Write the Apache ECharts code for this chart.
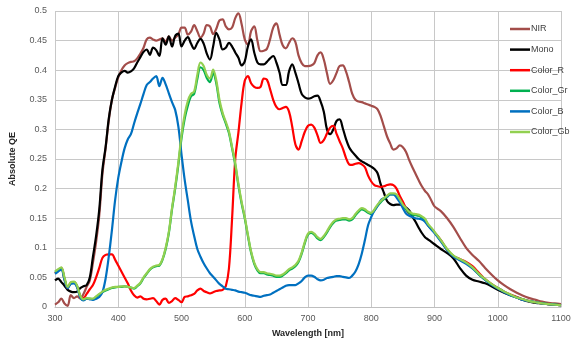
<!DOCTYPE html>
<html>
<head>
<meta charset="utf-8">
<script src="https://cdn.jsdelivr.net/npm/echarts@6/dist/echarts.min.js"></script>
<style>
html,body{margin:0;padding:0;background:#fff;}
#chart{width:579px;height:343px;}
</style>
</head>
<body>
<div id="chart"></div>
<script>
// wavelength samples [nm]: 5 nm steps to 900, then 10 nm
var wl = [
  300,305,310,315,320,325,330,335,340,345,
  350,355,360,365,370,375,380,385,390,395,
  400,405,410,415,420,425,430,435,440,445,
  450,455,460,465,470,475,480,485,490,495,
  500,505,510,515,520,525,530,535,540,545,
  550,555,560,565,570,575,580,585,590,595,
  600,605,610,615,620,625,630,635,640,645,
  650,655,660,665,670,675,680,685,690,695,
  700,705,710,715,720,725,730,735,740,745,
  750,755,760,765,770,775,780,785,790,795,
  800,805,810,815,820,825,830,835,840,845,
  850,855,860,865,870,875,880,885,890,895,
  900,
  910,920,930,940,950,960,970,980,990,1000,
  1010,1020,1030,1040,1050,1060,1070,1080,1090,1100
];

var nir = [
  0.004,0.008,0.014,0.006,0.002,0.02,0.015,0.018,0.014,0.022,
  0.034,0.045,0.075,0.11,0.155,0.225,0.268,0.315,0.35,0.37,
  0.388,0.4,0.408,0.412,0.414,0.415,0.42,0.428,0.438,0.452,
  0.455,0.452,0.45,0.452,0.454,0.448,0.457,0.45,0.455,0.46,
  0.472,0.472,0.46,0.465,0.476,0.466,0.455,0.462,0.476,0.474,
  0.461,0.47,0.484,0.486,0.474,0.469,0.472,0.488,0.496,0.478,
  0.452,0.443,0.466,0.474,0.45,0.432,0.433,0.436,0.452,0.472,
  0.479,0.46,0.442,0.437,0.446,0.454,0.448,0.425,0.412,0.407,
  0.407,0.408,0.412,0.425,0.43,0.418,0.395,0.377,0.383,0.395,
  0.407,0.408,0.398,0.38,0.36,0.35,0.347,0.346,0.344,0.342,
  0.34,0.338,0.334,0.322,0.305,0.288,0.276,0.266,0.268,0.273,
  0.27,0.262,0.248,0.236,0.225,0.214,0.204,0.196,0.19,0.18,
  0.17,
  0.162,0.15,0.135,0.117,0.1,0.088,0.078,0.066,0.055,0.045,
  0.037,0.03,0.024,0.019,0.015,0.012,0.009,0.007,0.006,0.005
];

var mono = [
  0.045,0.048,0.042,0.036,0.029,0.026,0.025,0.026,0.032,0.035,
  0.037,0.05,0.085,0.12,0.165,0.232,0.27,0.318,0.35,0.372,
  0.39,0.396,0.399,0.396,0.398,0.403,0.413,0.422,0.431,0.435,
  0.426,0.438,0.434,0.424,0.454,0.443,0.457,0.44,0.458,0.462,
  0.44,0.45,0.456,0.445,0.436,0.446,0.453,0.445,0.428,0.418,
  0.44,0.463,0.452,0.435,0.438,0.446,0.44,0.43,0.421,0.408,
  0.415,0.44,0.452,0.43,0.413,0.41,0.41,0.414,0.42,0.424,
  0.413,0.396,0.375,0.375,0.398,0.41,0.396,0.378,0.36,0.354,
  0.352,0.353,0.356,0.357,0.347,0.33,0.3,0.292,0.3,0.314,
  0.317,0.302,0.284,0.27,0.262,0.256,0.25,0.246,0.243,0.24,
  0.237,0.233,0.226,0.207,0.193,0.179,0.174,0.172,0.173,0.173,
  0.172,0.168,0.163,0.153,0.144,0.134,0.125,0.118,0.114,0.11,
  0.106,
  0.098,0.091,0.082,0.066,0.053,0.046,0.043,0.04,0.035,0.029,
  0.024,0.02,0.016,0.012,0.009,0.007,0.006,0.005,0.004,0.003
];

var colorR = [
  0.057,0.062,0.066,0.047,0.032,0.041,0.042,0.034,0.018,0.015,
  0.022,0.03,0.037,0.05,0.066,0.083,0.088,0.089,0.089,0.08,
  0.07,0.06,0.05,0.04,0.028,0.02,0.016,0.018,0.014,0.013,
  0.014,0.015,0.01,0.004,0.012,0.014,0.007,0.01,0.015,0.012,
  0.008,0.017,0.018,0.02,0.022,0.028,0.031,0.027,0.025,0.023,
  0.025,0.027,0.028,0.029,0.035,0.065,0.15,0.25,0.295,0.345,
  0.382,0.39,0.378,0.372,0.37,0.372,0.386,0.384,0.368,0.35,
  0.338,0.334,0.336,0.338,0.33,0.305,0.275,0.266,0.28,0.296,
  0.306,0.308,0.303,0.29,0.277,0.282,0.293,0.303,0.306,0.293,
  0.28,0.268,0.252,0.241,0.24,0.242,0.243,0.241,0.236,0.222,
  0.212,0.206,0.204,0.203,0.204,0.206,0.207,0.206,0.2,0.188,
  0.178,0.166,0.158,0.157,0.156,0.155,0.152,0.146,0.138,0.132,
  0.126,
  0.113,0.097,0.086,0.081,0.076,0.069,0.058,0.047,0.039,0.032,
  0.026,0.021,0.017,0.013,0.01,0.008,0.006,0.005,0.004,0.003
];

var colorGr = [
  0.058,0.062,0.065,0.048,0.033,0.04,0.042,0.035,0.018,0.012,
  0.014,0.014,0.013,0.017,0.021,0.025,0.028,0.03,0.032,0.033,
  0.034,0.034,0.035,0.034,0.033,0.031,0.035,0.04,0.049,0.056,
  0.063,0.067,0.069,0.07,0.08,0.098,0.125,0.165,0.2,0.24,
  0.285,0.318,0.34,0.356,0.36,0.385,0.405,0.4,0.387,0.38,
  0.395,0.378,0.345,0.325,0.31,0.294,0.268,0.24,0.205,0.175,
  0.15,0.12,0.092,0.073,0.062,0.057,0.057,0.055,0.054,0.053,
  0.051,0.051,0.053,0.057,0.062,0.065,0.069,0.076,0.09,0.108,
  0.122,0.125,0.122,0.116,0.113,0.118,0.126,0.135,0.142,0.146,
  0.147,0.148,0.148,0.146,0.148,0.155,0.161,0.165,0.163,0.159,
  0.157,0.163,0.171,0.177,0.182,0.186,0.19,0.19,0.188,0.18,
  0.171,0.165,0.159,0.156,0.155,0.154,0.151,0.147,0.138,0.132,
  0.126,
  0.112,0.097,0.086,0.08,0.074,0.066,0.055,0.046,0.038,0.032,
  0.026,0.02,0.016,0.013,0.01,0.008,0.006,0.005,0.004,0.003
];

var colorB = [
  0.056,0.06,0.063,0.046,0.032,0.039,0.04,0.033,0.016,0.011,
  0.014,0.013,0.012,0.014,0.017,0.025,0.048,0.085,0.13,0.18,
  0.218,0.245,0.268,0.283,0.292,0.31,0.327,0.343,0.36,0.375,
  0.38,0.386,0.39,0.373,0.387,0.376,0.361,0.346,0.333,0.305,
  0.258,0.215,0.18,0.145,0.12,0.098,0.085,0.074,0.065,0.057,
  0.051,0.045,0.039,0.035,0.031,0.03,0.029,0.028,0.026,0.025,
  0.024,0.022,0.02,0.019,0.018,0.017,0.019,0.02,0.021,0.024,
  0.027,0.03,0.033,0.036,0.037,0.037,0.037,0.04,0.044,0.05,
  0.053,0.053,0.051,0.047,0.045,0.046,0.049,0.05,0.051,0.052,
  0.052,0.051,0.05,0.049,0.053,0.06,0.072,0.09,0.113,0.138,
  0.152,0.163,0.171,0.18,0.184,0.187,0.19,0.19,0.185,0.177,
  0.167,0.158,0.154,0.152,0.15,0.149,0.148,0.144,0.137,0.131,
  0.125,
  0.111,0.096,0.085,0.079,0.073,0.065,0.055,0.046,0.038,0.031,
  0.025,0.02,0.016,0.012,0.01,0.008,0.006,0.005,0.004,0.003
];

var colorGb = [
  0.06,0.064,0.067,0.05,0.034,0.042,0.043,0.036,0.019,0.013,
  0.015,0.014,0.014,0.018,0.022,0.026,0.029,0.031,0.033,0.034,
  0.034,0.035,0.035,0.034,0.033,0.032,0.036,0.041,0.05,0.057,
  0.064,0.068,0.07,0.071,0.081,0.1,0.127,0.167,0.203,0.244,
  0.29,0.325,0.348,0.36,0.364,0.392,0.413,0.407,0.392,0.386,
  0.401,0.383,0.35,0.328,0.313,0.297,0.27,0.243,0.208,0.178,
  0.152,0.122,0.094,0.075,0.064,0.059,0.059,0.057,0.056,0.055,
  0.053,0.053,0.055,0.059,0.064,0.067,0.071,0.078,0.092,0.11,
  0.124,0.127,0.124,0.118,0.115,0.12,0.128,0.137,0.144,0.148,
  0.149,0.15,0.15,0.148,0.15,0.157,0.163,0.167,0.165,0.161,
  0.159,0.165,0.173,0.179,0.184,0.188,0.192,0.192,0.19,0.182,
  0.173,0.167,0.161,0.158,0.157,0.156,0.153,0.149,0.14,0.134,
  0.127,
  0.113,0.098,0.087,0.081,0.075,0.067,0.056,0.047,0.039,0.032,
  0.026,0.021,0.016,0.013,0.01,0.008,0.006,0.005,0.004,0.003
];

var names  = ['NIR', 'Mono', 'Color_R', 'Color_Gr', 'Color_B', 'Color_Gb'];
var colors = ['#A34D4A', '#000000', '#FF0000', '#00B050', '#0070C0', '#92D050'];
var values = [nir, mono, colorR, colorGr, colorB, colorGb];

//把波长和数值配对
function pairs(arr) {
  var out = [];
  for (var i = 0; i < wl.length; i++) {
    out.push([wl[i], arr[i]]);
  }
  return out;
}

var series = [];
for (var k = 0; k < names.length; k++) {
  series.push({
    name: names[k],
    type: 'line',
    data: pairs(values[k]),
    showSymbol: false,
    smooth: 0.35,
    lineStyle: { color: colors[k], width: 2.2 },
    itemStyle: { color: colors[k] }
  });
}

var chart = echarts.init(document.getElementById('chart'));
var option = {
  animation: false,
  backgroundColor: '#fff',
  textStyle: { fontFamily: 'Liberation Sans, Arial, sans-serif' },
  grid: { left: 52, right: 18, top: 11, bottom: 32.5 },
  legend: {
    data: names,
    orient: 'vertical',
    left: 505,
    top: 18,
    icon: 'rect',
    itemWidth: 20,
    itemHeight: 2.5,
    itemGap: 8.6,
    textStyle: { fontSize: 9, color: '#404040', lineHeight: 12, padding: [0, 0, 0, -4] }
  },
  xAxis: {
    type: 'value',
    min: 300,
    max: 1100,
    interval: 100,
    name: 'Wavelength [nm]',
    nameLocation: 'middle',
    nameGap: 22,
    nameTextStyle: { fontSize: 9, fontWeight: 'bold', color: '#262626' },
    axisLine: { show: true, lineStyle: { color: '#BFBFBF' } },
    axisTick: { show: false },
    axisLabel: { fontSize: 9, color: '#595959', margin: 7, formatter: function (v) { return String(v); } },
    splitLine: { show: true, lineStyle: { color: '#C8C8C8', width: 1 } }
  },
  yAxis: {
    type: 'value',
    min: 0,
    max: 0.5,
    interval: 0.05,
    name: 'Absolute QE',
    nameLocation: 'middle',
    nameGap: 38,
    nameTextStyle: { fontSize: 9, fontWeight: 'bold', color: '#262626' },
    axisLine: { show: false },
    axisTick: { show: false },
    axisLabel: { fontSize: 9, color: '#595959', margin: 8 },
    splitLine: { show: true, lineStyle: { color: '#C8C8C8', width: 1 } }
  },
  series: series
};
chart.setOption(option);
</script>
</body>
</html>
